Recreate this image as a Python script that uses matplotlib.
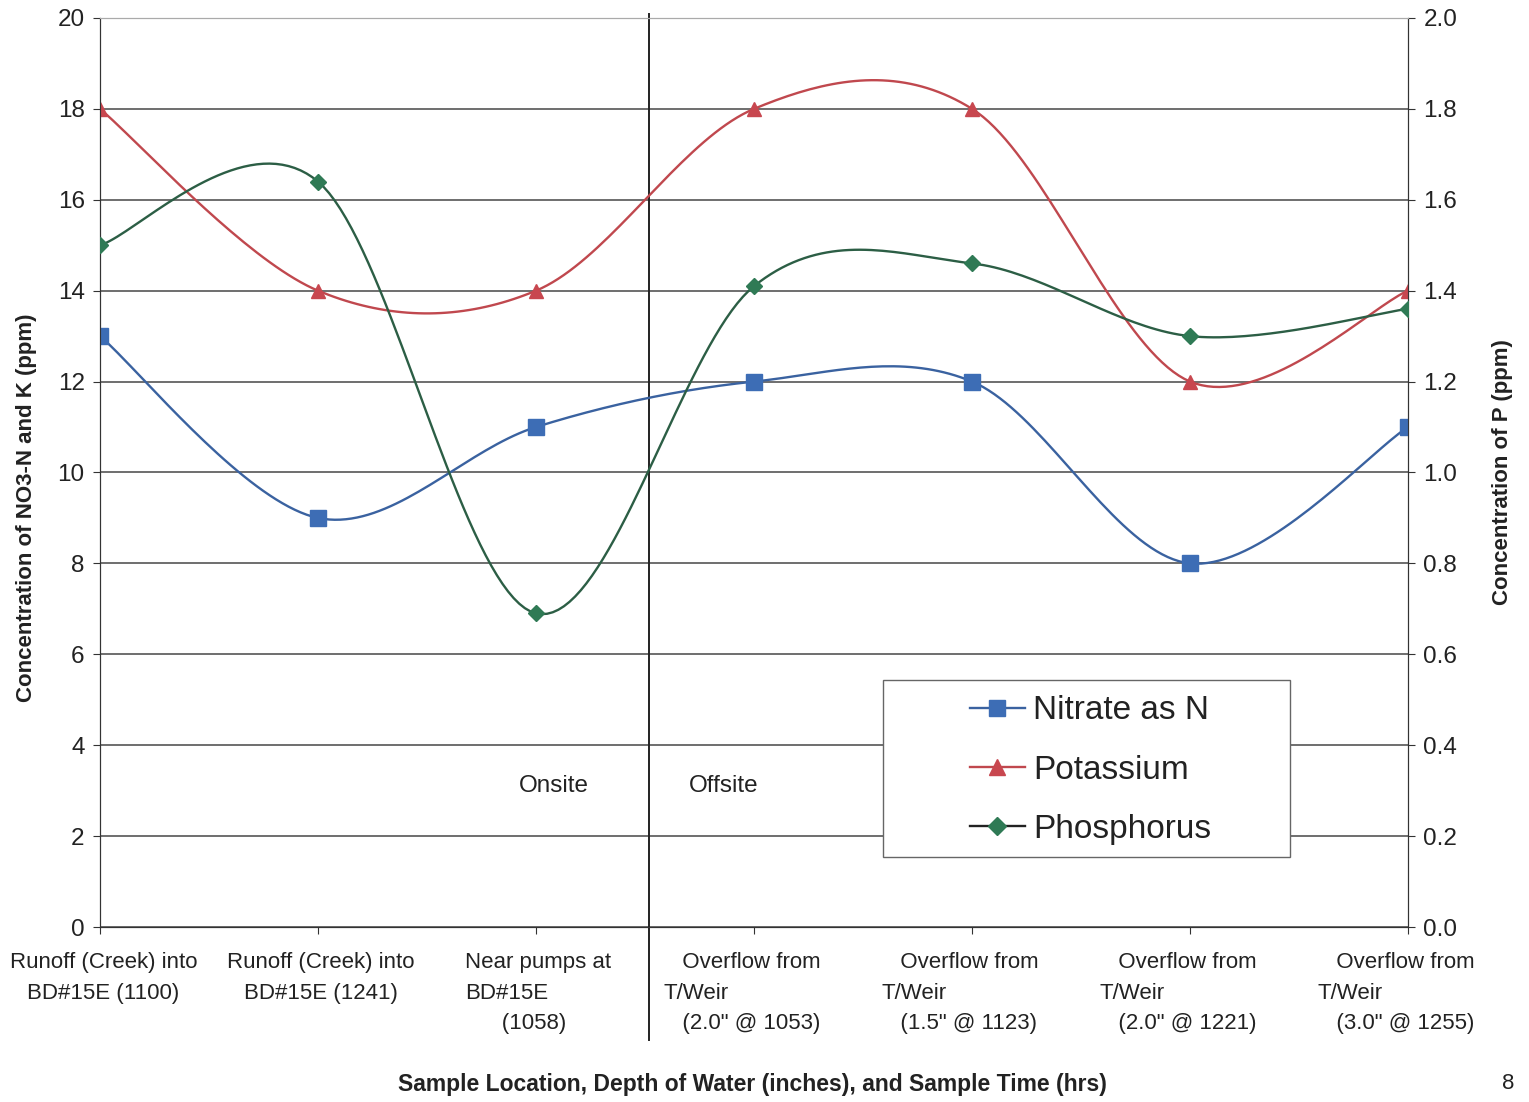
import numpy as np
import matplotlib
matplotlib.use('Agg')
import matplotlib.pyplot as plt
import matplotlib.transforms as mtransforms
from matplotlib.patches import Rectangle

plt.rcParams['font.family'] = ['Liberation Sans', 'DejaVu Sans']

categories = [
    'Runoff (Creek) into\nBD#15E (1100)',
    'Runoff (Creek) into\nBD#15E (1241)',
    'Near pumps at\nBD#15E\n      (1058)',
    '   Overflow from\nT/Weir\n   (2.0" @ 1053)',
    '   Overflow from\nT/Weir\n   (1.5" @ 1123)',
    '   Overflow from\nT/Weir\n   (2.0" @ 1221)',
    '   Overflow from\nT/Weir\n   (3.0" @ 1255)',
]
label_align = ['center', 'center', 'left', 'left', 'left', 'left', 'left']
label_shift = [0.015, 0.012, 0.01, -0.055, -0.055, -0.055, -0.055]
nitrate = [13, 9, 11, 12, 12, 8, 11]
potassium = [18, 14, 14, 18, 18, 12, 14]
phosphorus = [1.50, 1.64, 0.69, 1.41, 1.46, 1.30, 1.36]

left_ticks = list(range(0, 21, 2))
right_ticks = [0.0, 0.2, 0.4, 0.6, 0.8, 1.0, 1.2, 1.4, 1.6, 1.8, 2.0]

blue = '#3d6db5'
blue_line = '#3a62a0'
red = '#c8474f'
red_line = '#c0484e'
green = '#2f7a55'
green_line = '#2c5e45'
ink = '#222222'


def smooth(xs, ys, n=40):
    # Excel-like smoothing: Bezier segments with Catmull-Rom control points
    xs = np.asarray(xs, float)
    ys = np.asarray(ys, float)
    px = np.concatenate([[xs[0]], xs, [xs[-1]]])
    py = np.concatenate([[ys[0]], ys, [ys[-1]]])
    out_x, out_y = [], []
    t = np.linspace(0, 1, n)
    for i in range(1, len(px) - 2):
        x0, x1, x2, x3 = px[i - 1], px[i], px[i + 1], px[i + 2]
        y0, y1, y2, y3 = py[i - 1], py[i], py[i + 1], py[i + 2]
        c1x, c1y = x1 + (x2 - x0) / 6, y1 + (y2 - y0) / 6
        c2x, c2y = x2 - (x3 - x1) / 6, y2 - (y3 - y1) / 6
        bx = (1 - t) ** 3 * x1 + 3 * (1 - t) ** 2 * t * c1x + 3 * (1 - t) * t ** 2 * c2x + t ** 3 * x2
        by = (1 - t) ** 3 * y1 + 3 * (1 - t) ** 2 * t * c1y + 3 * (1 - t) * t ** 2 * c2y + t ** 3 * y2
        out_x.extend(bx)
        out_y.extend(by)
    return out_x, out_y


fig = plt.figure(figsize=(15.29, 11.02), dpi=100)
ax = fig.add_axes([0.0654, 0.1588, 0.8555, 0.8249])
ax2 = ax.twinx()

x = np.arange(len(categories))

sx, sy = smooth(x, nitrate)
ax.plot(sx, sy, color=blue_line, lw=1.7, zorder=3)
ax.plot(x, nitrate, ls='none', marker='s', ms=11, color=blue, zorder=4)
sx, sy = smooth(x, potassium)
ax.plot(sx, sy, color=red_line, lw=1.7, zorder=3)
ax.plot(x, potassium, ls='none', marker='^', ms=10, color=red, zorder=4)
sx, sy = smooth(x, phosphorus)
ax2.plot(sx, sy, color=green_line, lw=1.7, zorder=3)
ax2.plot(x, phosphorus, ls='none', marker='D', ms=8.5, color=green, zorder=4)

# legend handles
h1, = ax.plot([], [], color=blue_line, lw=1.7, marker='s', ms=12, mfc=blue, mec=blue)
h2, = ax.plot([], [], color=red_line, lw=1.7, marker='^', ms=11, mfc=red, mec=red)
h3, = ax.plot([], [], color='#222222', lw=1.7, marker='D', ms=9, mfc=green, mec=green)

ax.set_xlim(0, 6)
ax.set_ylim(0, 20)
ax2.set_ylim(0, 2.0)
ax.set_yticks(left_ticks)
ax.set_yticklabels([str(v) for v in left_ticks])
ax2.set_yticks(right_ticks)
ax2.set_yticklabels(['%.1f' % v for v in right_ticks])

# tick marks on the categories, labels on minor ticks (nudged like the original layout)
ax.set_xticks(x)
ax.set_xticklabels([])
ax.set_xticks(x + np.array(label_shift), minor=True)
ax.set_xticklabels(categories, minor=True)
for lab, al in zip(ax.get_xticklabels(minor=True), label_align):
    lab.set_multialignment(al)
    lab.set_linespacing(1.6)

ax.grid(axis='y', color='#555555', lw=1.2)
ax.set_axisbelow(True)
for sp in ['left', 'right', 'bottom', 'top']:
    ax.spines[sp].set_color('#333333')
    ax2.spines[sp].set_color('#333333')
ax.spines['top'].set_color('#aaaaaa')
ax2.spines['top'].set_color('#aaaaaa')

ax.tick_params(axis='y', labelsize=17.5, length=5, color='#333333', labelcolor=ink, pad=6)
ax2.tick_params(axis='y', labelsize=17.5, length=5, color='#333333', labelcolor=ink, pad=6)
ax.tick_params(axis='x', which='major', length=5, color='#333333')
ax.tick_params(axis='x', which='minor', length=0, labelsize=16, labelcolor=ink, pad=18)

ax.set_ylabel('Concentration of NO3-N and K (ppm)', fontsize=16, fontweight='bold', color=ink)
ax.yaxis.set_label_coords(-0.048, 0.461)
ax2.set_ylabel('Concentration of P (ppm)', fontsize=16, fontweight='bold', color=ink, rotation=90)
ax2.yaxis.set_label_coords(1.064, 0.5)
ax.set_xlabel('Sample Location, Depth of Water (inches), and Sample Time (hrs)',
              fontsize=16.5, fontweight='bold', color=ink)
ax.xaxis.set_label_coords(0.4985, -0.161)

# onsite / offsite divider
trans = mtransforms.blended_transform_factory(ax.transData, ax.transAxes)
ax.plot([2.52, 2.52], [-0.124, 1.004], transform=trans, color=ink, lw=1.4,
        clip_on=False, zorder=2)
ax.text(2.08, 3.1, 'Onsite', fontsize=17.5, ha='center', va='center', color=ink)
ax.text(2.86, 3.1, 'Offsite', fontsize=17.5, ha='center', va='center', color=ink)

# legend box drawn as its own frame, entries placed inside
ax2.add_patch(Rectangle((0.5986, 0.077), 0.3112, 0.1947, transform=ax2.transAxes,
                        facecolor='white', edgecolor='#666666', lw=1.0, zorder=9))
leg = ax2.legend([h1, h2, h3], ['Nitrate as N', 'Potassium', 'Phosphorus'],
                 loc='center left', bbox_to_anchor=(0.665, 0.1725), fontsize=24,
                 frameon=False, handlelength=1.65, handletextpad=0.25, labelspacing=0.85,
                 borderpad=0, borderaxespad=0)
for t in leg.get_texts():
    t.set_color(ink)
leg.set_zorder(10)
ax2.set_zorder(ax.get_zorder() + 1)
ax2.patch.set_visible(False)

fig.text(0.9862, 0.0172, '8', fontsize=16, color=ink, ha='center', va='center')

fig.savefig('out.png', dpi=100, facecolor='white')
